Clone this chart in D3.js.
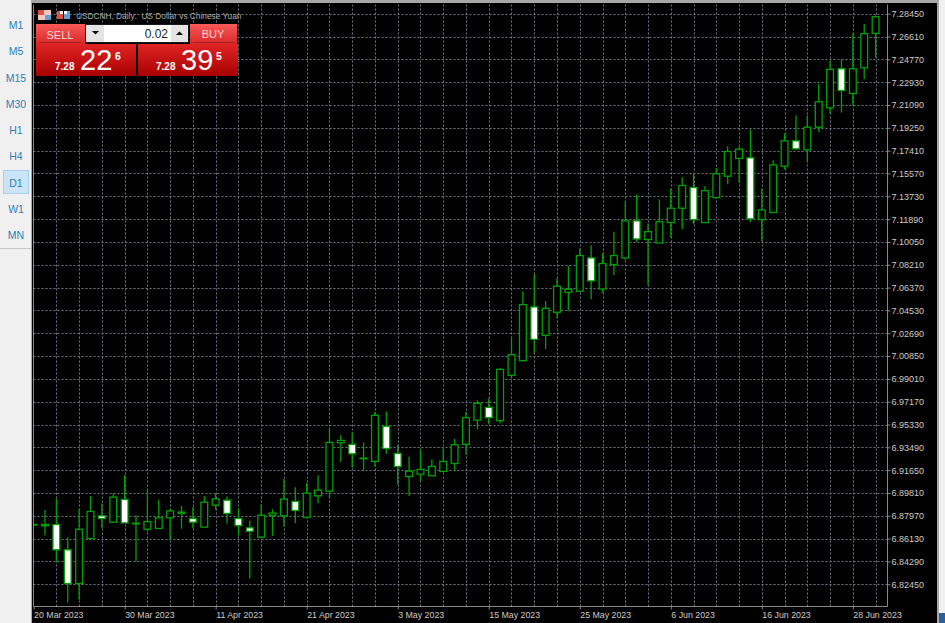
<!DOCTYPE html>
<html><head><meta charset="utf-8">
<script src="https://cdn.jsdelivr.net/npm/d3@7/dist/d3.min.js"></script>
<style>
html,body{margin:0;padding:0;background:#f0f0f0;overflow:hidden}
svg{display:block}
text{font-family:"Liberation Sans",Arial,sans-serif}
</style></head><body>
<svg id="c" width="945" height="623"></svg>
<script>
const priceTicks=[7.2845,7.2661,7.2477,7.2293,7.2109,7.1925,7.1741,7.1557,7.1373,7.1189,7.1005,7.0821,7.0637,7.0453,7.0269,7.0085,6.9901,6.9717,6.9533,6.9349,6.9165,6.8981,6.8797,6.8613,6.8429,6.8245];
const dateLabels=["20 Mar 2023","30 Mar 2023","11 Apr 2023","21 Apr 2023","3 May 2023","15 May 2023","25 May 2023","6 Jun 2023","16 Jun 2023","28 Jun 2023"];
const timeframes=["M1","M5","M15","M30","H1","H4","D1","W1","MN"];
// Candle body upper edge, lower edge, wick high, wick low; bearish[i]=1 is a down (white) candle.
const bodyTop=[6.8727,6.8727,6.8727,6.8523,6.8689,6.8832,6.8797,6.8948,6.8929,6.8738,6.8751,6.8781,6.8837,6.8827,6.8775,6.8907,6.8934,6.8923,6.8775,6.8700,6.8802,6.8819,6.8932,6.8913,6.8980,6.9004,6.9389,6.9405,6.9373,6.9262,6.9607,6.9518,6.9300,6.9157,6.9171,6.9195,6.9236,6.9370,6.9588,6.9704,6.9671,6.9978,7.0096,7.0500,7.0481,7.0470,7.0648,7.0624,7.0895,7.0876,7.0831,7.0895,7.1175,7.1175,7.1088,7.1169,7.1277,7.1460,7.1444,7.1419,7.1554,7.1734,7.1753,7.1683,7.1263,7.1626,7.1820,7.1820,7.1930,7.2135,7.2396,7.2401,7.2401,7.2684,7.2821];
const bodyBottom=[6.8722,6.8716,6.8523,6.8251,6.8251,6.8614,6.8775,6.8746,6.8740,6.8732,6.8689,6.8695,6.8781,6.8816,6.8746,6.8706,6.8883,6.8816,6.8719,6.8673,6.8625,6.8802,6.8797,6.8840,6.8786,6.8958,6.8996,6.9386,6.9297,6.9257,6.9236,6.9340,6.9195,6.9114,6.9133,6.9120,6.9155,6.9219,6.9373,6.9569,6.9588,6.9564,6.9930,7.0048,7.0220,7.0252,7.0438,7.0599,7.0607,7.0691,7.0626,7.0823,7.0876,7.1029,7.1024,7.0997,7.1161,7.1277,7.1185,7.1161,7.1363,7.1535,7.1678,7.1191,7.1185,7.1242,7.1616,7.1756,7.1747,7.1930,7.2086,7.2226,7.2202,7.2409,7.2686];
const wickHigh=[6.8727,6.8845,6.8934,6.8625,6.8853,6.8956,6.8897,6.8980,6.9125,6.8802,6.9004,6.8926,6.8853,6.8878,6.8867,6.8958,6.8980,6.8953,6.8856,6.8759,6.8888,6.8851,6.9098,6.9028,6.9061,6.9125,6.9507,6.9448,6.9470,6.9389,6.9636,6.9639,6.9367,6.9273,6.9332,6.9252,6.9338,6.9416,6.9636,6.9728,6.9744,6.9986,7.0228,7.0605,7.0747,7.0529,7.0712,7.0812,7.0952,7.0979,7.0914,7.1088,7.1333,7.1387,7.1153,7.1347,7.1433,7.1527,7.1556,7.1454,7.1602,7.1777,7.1772,7.1912,7.1433,7.1664,7.1879,7.2025,7.2025,7.2280,7.2463,7.2482,7.2686,7.2762,7.2832];
const wickLow=[6.8722,6.8641,6.8423,6.8098,6.8119,6.8614,6.8697,6.8746,6.8740,6.8428,6.8671,6.8695,6.8609,6.8692,6.8697,6.8706,6.8845,6.8735,6.8638,6.8291,6.8625,6.8636,6.8711,6.8738,6.8775,6.8899,6.8937,6.9230,6.9184,6.9160,6.9192,6.9297,6.9047,6.8956,6.9077,6.9120,6.9155,6.9160,6.9292,6.9494,6.9537,6.9542,6.9908,7.0043,7.0107,7.0142,7.0390,7.0451,7.0607,7.0543,7.0594,7.0739,7.0862,7.1005,7.0655,7.0997,7.1040,7.1107,7.1148,7.1161,7.1355,7.1470,7.1487,7.1166,7.1013,7.1242,7.1591,7.1747,7.1653,7.1893,7.2038,7.2049,7.2105,7.2318,7.2490];
const bearish=[0,0,1,1,0,0,1,0,1,0,0,0,0,0,1,0,0,1,1,1,0,0,0,1,0,0,0,0,1,0,0,1,1,0,0,0,0,0,0,0,1,0,0,0,1,0,0,0,0,1,0,0,0,1,0,0,0,0,1,0,0,0,0,1,0,0,0,1,0,0,0,1,0,0,0];

const svg=d3.select("#c");
const plot={l:33.5,r:887.5,t:4.5,b:606.5};
const x=d3.scaleLinear().domain([0,74]).range([33.6,875.6]);
const y=d3.scaleLinear().domain([6.8245,7.2845]).range([584.3,13.7]);
const snap=v=>Math.round(v)+0.5;

// window chrome
svg.append("rect").attr("width",945).attr("height",623).attr("fill","#f0f0f0");
svg.append("rect").attr("x",31).attr("y",0).attr("width",908).attr("height",623).attr("fill","#a8a8a8");
svg.append("rect").attr("x",32).attr("y",3).attr("width",905).attr("height",620).attr("fill","#000");
svg.append("rect").attr("x",939).attr("y",613).attr("width",6).attr("height",10).attr("fill","#2b5f9e");
svg.append("rect").attr("x",0).attr("y",248).attr("width",31).attr("height",1).attr("fill","#c8c8c8");

// timeframe bar
const tfY=d3.scalePoint().domain(timeframes).range([25,235]);
svg.append("rect").attr("x",3.5).attr("y",170.5).attr("width",25).attr("height",23).attr("fill","#cce4f7").attr("stroke","#a8d0ee");
svg.append("g").selectAll("text").data(timeframes).join("text")
  .attr("x",16).attr("y",d=>tfY(d)+4).attr("text-anchor","middle")
  .attr("font-size",10.5).attr("fill","#2d7fb5").text(d=>d);

// grid
const gridColor="#6f7884";
svg.append("g").selectAll("line").data(priceTicks).join("line")
  .attr("x1",plot.l).attr("x2",plot.r).attr("y1",d=>snap(y(d))).attr("y2",d=>snap(y(d)))
  .attr("stroke",gridColor).attr("stroke-dasharray","2 2");
svg.append("g").selectAll("line").data(d3.range(2,75,2)).join("line")
  .attr("x1",d=>snap(x(d))).attr("x2",d=>snap(x(d))).attr("y1",plot.t).attr("y2",plot.b)
  .attr("stroke",gridColor).attr("stroke-dasharray","2 2");

// candles, clipped to the plot so the first one is cut at the left edge
svg.append("defs").append("clipPath").attr("id","plotClip").append("rect")
  .attr("x",plot.l).attr("y",plot.t).attr("width",plot.r-plot.l).attr("height",plot.b-plot.t);
const idx=d3.range(bodyTop.length);
const green="#00a000";
const g=svg.append("g").attr("clip-path","url(#plotClip)");
g.selectAll("line.w").data(idx).join("line").attr("class","w")
  .attr("x1",i=>x(i)).attr("x2",i=>x(i))
  .attr("y1",i=>y(wickHigh[i])).attr("y2",i=>y(wickLow[i]))
  .attr("stroke",green).attr("stroke-width",1.3);
g.selectAll("rect").data(idx).join("rect")
  .attr("x",i=>x(i)-3.4).attr("width",6.8)
  .attr("y",i=>y(bodyTop[i]))
  .attr("height",i=>y(bodyBottom[i])-y(bodyTop[i]))
  .attr("fill",i=>bearish[i]?"#fff":"#000").attr("stroke",green).attr("stroke-width",1.3);

// plot frame
svg.append("path").attr("d",`M${plot.l},${plot.t}V${plot.b}H${plot.r}V${plot.t}`).attr("fill","none").attr("stroke","#8d8584");

// axes
const axisColor="#cfcbc7";
const yAxis=svg.append("g").attr("transform",`translate(${plot.r},0)`)
  .call(d3.axisRight(y).tickValues(priceTicks).tickFormat(d3.format(".5f")).tickSize(3).tickPadding(1));
yAxis.select(".domain").remove();
yAxis.selectAll("line").attr("stroke","#8d8584");
yAxis.selectAll("text").attr("fill",axisColor).attr("font-size",9).attr("font-family","Liberation Sans");
const xAxis=svg.append("g").attr("transform",`translate(0,${plot.b})`)
  .call(d3.axisBottom(x).tickValues(d3.range(0,dateLabels.length).map(k=>k*8)).tickFormat((d,k)=>dateLabels[k]).tickSize(3).tickPadding(1));
xAxis.select(".domain").remove();
xAxis.selectAll("line").attr("stroke","#8d8584");
xAxis.selectAll("text").attr("fill",axisColor).attr("font-size",8.8).attr("text-anchor","start").attr("font-family","Liberation Sans").attr("dy","0.8em");

// header
svg.append("rect").attr("x",38).attr("y",10).attr("width",13).attr("height",10).attr("fill","#f4c8c0");
svg.append("rect").attr("x",38).attr("y",10).attr("width",6).attr("height",5).attr("fill","#e05040");
svg.append("rect").attr("x",45).attr("y",15).attr("width",6).attr("height",5).attr("fill","#5f9fd8");
svg.append("rect").attr("x",57).attr("y",11).attr("width",6).attr("height",8).attr("fill","#e05040");
svg.append("rect").attr("x",64).attr("y",11).attr("width",6).attr("height",8).attr("fill","#5f9fd8");
svg.append("rect").attr("x",60).attr("y",11).attr("width",3).attr("height",3).attr("fill","#fff");
svg.append("rect").attr("x",64).attr("y",11).attr("width",3).attr("height",3).attr("fill","#fff");
svg.append("text").attr("x",76).attr("y",18.5).attr("font-size",8.3).attr("fill","#a9a9a9").attr("xml:space","preserve").text("USDCNH, Daily:  US Dollar vs Chinese Yuan");

// trade panel
const defs=svg.append("defs");
const grad=(id,a,b)=>{const l=defs.append("linearGradient").attr("id",id).attr("x1",0).attr("y1",0).attr("x2",0).attr("y2",1);
  l.append("stop").attr("offset",0).attr("stop-color",a);l.append("stop").attr("offset",1).attr("stop-color",b);};
grad("btn","#f85a5a","#d92828");grad("quote","#e02424","#a80000");
const box=(x0,y0,w,h,f)=>svg.append("rect").attr("x",x0).attr("y",y0).attr("width",w).attr("height",h).attr("fill",f);
box(36,24,49,20,"url(#btn)");box(190,24,47,20,"url(#btn)");
box(36,44,100,32,"url(#quote)");box(138,44,100,32,"url(#quote)");
svg.append("rect").attr("x",39).attr("y",42).attr("width",42).attr("height",1).attr("fill","#a82020");
svg.append("rect").attr("x",193).attr("y",42).attr("width",42).attr("height",1).attr("fill","#a82020");
box(85,24,104,19,"#1a1a1a");box(86,25,102,17,"#fff");box(86,25,18,17,"#e4e4e4");box(171,25,17,17,"#e4e4e4");
svg.append("path").attr("d","M92,31h7l-3.5,3.5z").attr("fill","#000");
svg.append("path").attr("d","M176,35h7l-3.5,-3.5z").attr("fill","#000");
const label=(t,xp,yp,s,f,a,w)=>svg.append("text").attr("x",xp).attr("y",yp).attr("font-size",s).attr("fill",f).attr("text-anchor",a||"start").attr("font-weight",w||"normal").attr("font-family","Open Sans").text(t);
label("SELL",60,38.5,11,"#ffd8d8","middle");
label("BUY",213,38,11,"#ffd8d8","middle");
label("0.02",168,38,12,"#222","end");
label("7.28",55,70,10,"#fff",null,"bold");
label("22",80,70,29,"#fff");
label("6",115,60,10.5,"#fff",null,"bold");
label("7.28",156,70,10,"#fff",null,"bold");
label("39",181,70,29,"#fff");
label("5",216,60,10.5,"#fff",null,"bold");
</script>
</body></html>
